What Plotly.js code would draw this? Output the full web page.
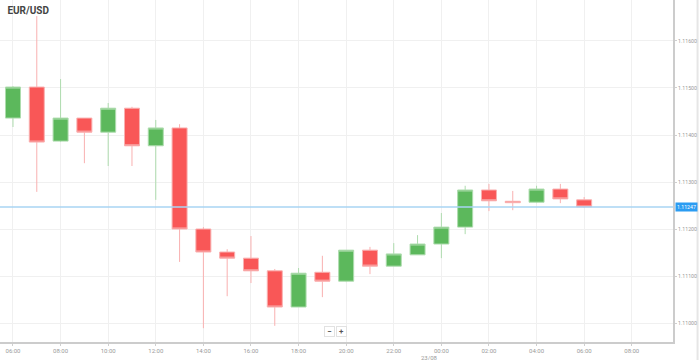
<!DOCTYPE html>
<html>
<head>
<meta charset="utf-8">
<script src="https://cdn.plot.ly/plotly-3.0.1.min.js"></script>
<style>
  html, body { margin: 0; padding: 0; background: #fff; }
  #chart { width: 699px; height: 360px; }
</style>
</head>
<body>
<div id="chart"></div>
<script>
// ---- data ----
const times = [
  '2019-08-22 06:00','2019-08-22 07:00','2019-08-22 08:00','2019-08-22 09:00','2019-08-22 10:00',
  '2019-08-22 11:00','2019-08-22 12:00','2019-08-22 13:00','2019-08-22 14:00','2019-08-22 15:00',
  '2019-08-22 16:00','2019-08-22 17:00','2019-08-22 18:00','2019-08-22 19:00','2019-08-22 20:00',
  '2019-08-22 21:00','2019-08-22 22:00','2019-08-22 23:00','2019-08-23 00:00','2019-08-23 01:00',
  '2019-08-23 02:00','2019-08-23 03:00','2019-08-23 04:00','2019-08-23 05:00','2019-08-23 06:00'
];
const openP  = [1.11436,1.11502,1.11387,1.11436,1.11406,1.11457,1.11377,1.11415,1.11200,1.11151,1.11138,1.11111,1.11034,1.11108,1.11089,1.11155,1.11121,1.11145,1.11168,1.11204,1.11283,1.11259,1.11257,1.11285,1.11262];
const highP  = [1.11504,1.11653,1.11519,1.11436,1.11468,1.11460,1.11432,1.11423,1.11204,1.11157,1.11185,1.11115,1.11117,1.11143,1.11155,1.11162,1.11170,1.11187,1.11234,1.11292,1.11296,1.11281,1.11292,1.11296,1.11268];
const lowP   = [1.11417,1.11279,1.11385,1.11340,1.11334,1.11334,1.11262,1.11130,1.10989,1.11057,1.11085,1.10994,1.11034,1.11055,1.11087,1.11104,1.11121,1.11145,1.11138,1.11189,1.11238,1.11240,1.11255,1.11255,1.11245];
const closeP = [1.11502,1.11385,1.11436,1.11406,1.11457,1.11377,1.11415,1.11200,1.11151,1.11138,1.11111,1.11034,1.11106,1.11089,1.11155,1.11121,1.11147,1.11168,1.11204,1.11283,1.11260,1.11256,1.11285,1.11264,1.11247];

const currentPrice = 1.11247;
const symbol = 'EUR/USD';
const dateLabel = '23/08';
const dateLabelTime = '2019-08-22 23:31';
const xRange = ['2019-08-22 05:27:15', '2019-08-23 09:44'];
const yRange = [1.109596, 1.116872];
const yTicks = [1.110, 1.111, 1.112, 1.113, 1.114, 1.115, 1.116];

const trace = {
  type: 'candlestick',
  x: times, open: openP, high: highP, low: lowP, close: closeP,
  increasing: { line: { color: '#aedcae', width: 1 }, fillcolor: '#5cb85c' },
  decreasing: { line: { color: '#f9b0b0', width: 1 }, fillcolor: '#f95757' },
  whiskerwidth: 0,
  hoverinfo: 'skip',
  showlegend: false
};

const layout = {
  width: 699, height: 360,
  margin: { l: 0, r: 26, t: 0, b: 18, pad: 0 },
  paper_bgcolor: '#ffffff',
  plot_bgcolor: '#ffffff',
  boxgap: 0.1, boxgroupgap: 0.3,
  showlegend: false,
  title: {
    text: '<b>' + symbol + '</b>',
    x: 0.011, xanchor: 'left', xref: 'paper',
    y: 0.972, yanchor: 'middle', yref: 'container',
    font: { family: 'Roboto, Arial, sans-serif', size: 10, color: '#444' }
  },
  xaxis: {
    type: 'date',
    range: xRange,
    rangeslider: { visible: false },
    dtick: 2 * 3600 * 1000,
    tick0: '2019-08-22 00:00',
    tickformat: '%H:%M',
    tickfont: { family: 'Roboto, Arial, sans-serif', size: 6, color: '#9a9a9a' },
    ticks: 'outside', ticklen: 2, tickcolor: '#cfcfcf',
    showgrid: true, gridcolor: '#f0f0f0', gridwidth: 1,
    showline: true, linecolor: '#cccccc', linewidth: 2,
    zeroline: false, fixedrange: true
  },
  yaxis: {
    side: 'right',
    range: yRange,
    tickvals: yTicks,
    tickformat: '.5f',
    tickfont: { family: 'Roboto, Arial, sans-serif', size: 5.2, color: '#9a9a9a' },
    ticks: 'outside', ticklen: 2, tickcolor: '#cfcfcf',
    showgrid: true, gridcolor: '#f0f0f0', gridwidth: 1,
    showline: true, linecolor: '#cccccc', linewidth: 2,
    zeroline: false, fixedrange: true
  },
  shapes: [
    { type: 'line', xref: 'paper', yref: 'y', x0: 0, x1: 1, y0: currentPrice, y1: currentPrice,
      line: { color: '#a8d4f3', width: 1.5 } },
    { type: 'line', xref: 'paper', yref: 'paper', x0: 1.0365, x1: 1.0365, y0: -0.06, y1: 1,
      layer: 'below', line: { color: '#e6e6e6', width: 2 } }
  ],
  annotations: [
    { xref: 'paper', yref: 'y', x: 1.003, y: currentPrice, xanchor: 'left', yanchor: 'middle',
      text: currentPrice.toFixed(5), showarrow: false,
      font: { family: 'Roboto, Arial, sans-serif', size: 5.2, color: '#ffffff' },
      bgcolor: '#2b9cf2', borderpad: 1 },
    { xref: 'x', yref: 'paper', x: dateLabelTime, y: -0.028, xanchor: 'center', yanchor: 'top',
      text: dateLabel, showarrow: false,
      font: { family: 'Roboto, Arial, sans-serif', size: 6, color: '#9a9a9a' } },
    { xref: 'paper', yref: 'paper', x: 0.490, y: 0.032, xanchor: 'center', yanchor: 'middle',
      text: '<b>−</b>', showarrow: false, width: 9, height: 9,
      font: { family: 'Roboto, Arial, sans-serif', size: 8, color: '#555' },
      bgcolor: '#ffffff', bordercolor: '#e2e2e2', borderwidth: 1, borderpad: 0 },
    { xref: 'paper', yref: 'paper', x: 0.508, y: 0.032, xanchor: 'center', yanchor: 'middle',
      text: '<b>+</b>', showarrow: false, width: 9, height: 9,
      font: { family: 'Roboto, Arial, sans-serif', size: 8, color: '#555' },
      bgcolor: '#ffffff', bordercolor: '#e2e2e2', borderwidth: 1, borderpad: 0 }
  ]
};

Plotly.newPlot('chart', [trace], layout, { displayModeBar: false, staticPlot: true });
</script>
</body>
</html>
